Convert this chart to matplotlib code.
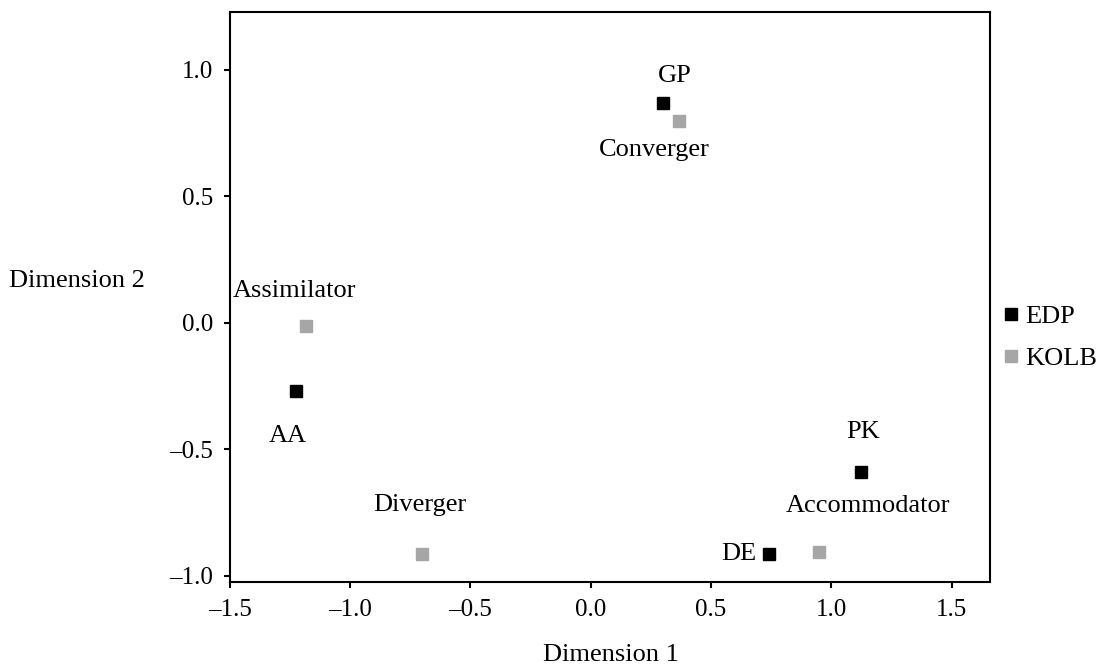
import numpy as np
import matplotlib
matplotlib.use('Agg')
import matplotlib.pyplot as plt
from matplotlib.ticker import FuncFormatter

plt.rcParams['font.family'] = ['Liberation Serif', 'DejaVu Serif']

# EDP points
edp_names = ['GP', 'AA', 'PK', 'DE']
edp_x = [0.30, -1.225, 1.125, 0.74]
edp_y = [0.87, -0.27, -0.59, -0.915]

# KOLB points
kolb_names = ['Converger', 'Assimilator', 'Accommodator', 'Diverger']
kolb_x = [0.365, -1.185, 0.95, -0.70]
kolb_y = [0.80, -0.01, -0.905, -0.915]

# label offsets (pixels) for each point
edp_offsets = [(12, 27), (-8, -45), (2, 40), (-12, 0)]
edp_ha = ['center', 'center', 'center', 'right']
kolb_offsets = [(-24, -29), (-11, 35), (49, 46), (-3, 49)]

fig = plt.figure(figsize=(11.12, 6.7), dpi=100)
ax = fig.add_axes([0.2068, 0.1313, 0.6835, 0.8507])

ax.plot(edp_x, edp_y, 's', color='black', markersize=8, linestyle='none', label='EDP')
ax.plot(kolb_x, kolb_y, 's', color='#a6a6a6', markersize=8.5, linestyle='none', label='KOLB')

for name, x, y, off, ha in zip(edp_names, edp_x, edp_y, edp_offsets, edp_ha):
    ax.annotate(name, (x, y), xytext=off, textcoords='offset pixels',
                ha=ha, va='center', fontsize=19)
for name, x, y, off in zip(kolb_names, kolb_x, kolb_y, kolb_offsets):
    ax.annotate(name, (x, y), xytext=off, textcoords='offset pixels',
                ha='center', va='center', fontsize=19)

ax.set_xlim(-1.5, 1.66)
ax.set_ylim(-1.024, 1.229)
ax.set_xticks([-1.5, -1.0, -0.5, 0.0, 0.5, 1.0, 1.5])
ax.set_yticks([-1.0, -0.5, 0.0, 0.5, 1.0])
fmt = FuncFormatter(lambda v, p: ('%.1f' % v).replace('-', '\u2013'))
ax.xaxis.set_major_formatter(fmt)
ax.yaxis.set_major_formatter(fmt)
ax.tick_params(direction='out', length=4, width=1.5, labelsize=18, pad=8)
for s in ax.spines.values():
    s.set_linewidth(1.5)

fig.text(0.549, 0.022, 'Dimension 1', ha='center', va='center', fontsize=19)
fig.text(0.069, 0.58, 'Dimension 2', ha='center', va='center', fontsize=19)

fig.legend(loc='center left', bbox_to_anchor=(0.901, 0.496), frameon=False,
           fontsize=19, handlelength=0.7, handletextpad=0.2, labelspacing=0.7,
           borderpad=0, borderaxespad=0, numpoints=1)

fig.savefig('out.png', dpi=100)
